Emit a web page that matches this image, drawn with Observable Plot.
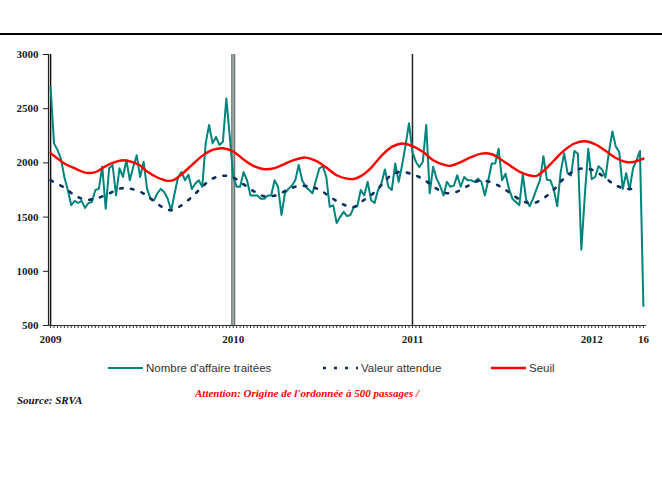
<!DOCTYPE html>
<html><head><meta charset="utf-8">
<script src="https://cdn.jsdelivr.net/npm/d3@7"></script>
<script src="https://cdn.jsdelivr.net/npm/@observablehq/plot@0.6"></script>
<style>
html,body{margin:0;padding:0;background:#fff;}
#wrap{position:relative;width:662px;height:482px;overflow:hidden;background:#fff;}
#chart{position:absolute;left:0;top:0;}
#topline{position:absolute;left:0;top:33px;width:662px;height:2px;background:#000;}
#foot{position:absolute;left:0;top:352px;}
</style></head><body>
<div id="wrap"><div id="chart"></div><div id="topline"></div><div id="foot"></div></div>
<script>
// Weekly counts (week index 0 = 2009 W1 ... 172 = 2012 W16)
const teal = [
 2700,2180,2120,2040,1870,1750,1610,1650,1630,1650,
 1585,1630,1640,1750,1760,1965,1578,1950,1980,1700,
 1950,1870,2025,1840,1965,2070,1870,2010,1760,1670,
 1655,1720,1760,1730,1670,1560,1720,1870,1915,1840,
 1890,1760,1810,1840,1780,2180,2350,2180,2240,2165,
 2195,2595,2240,1870,1780,1780,1915,1840,1700,1700,
 1700,1670,1670,1700,1700,1840,1780,1520,1720,1760,
 1790,1840,1980,1840,1780,1750,1720,1840,1950,1970,
 1870,1595,1610,1445,1500,1550,1510,1520,1595,1600,
 1750,1700,1825,1655,1630,1750,1810,1940,1780,1750,
 1994,1825,1980,2165,2365,2100,2010,1960,2010,2350,
 1720,1965,1855,1790,1700,1825,1780,1790,1885,1780,
 1870,1840,1840,1825,1855,1825,1700,1840,1994,1994,
 2130,1840,1900,1760,1670,1640,1610,1895,1660,1600,
 1670,1760,1840,2062,1845,1840,1755,1600,1915,2090,
 1905,1885,2110,2085,1200,1700,2130,1850,1870,1970,
 1940,1865,2100,2290,2150,2100,1760,1905,1755,1950,
 2025,2110,680
];
// Seuil (threshold)
const seuilWeeks = [0,2,4,7,10,13,16,18,21,24,26,28,31,33,34,36,38,41,44,47,50,53,56,59,62,65,68,71,74,77,80,83,86,88,90,93,96,99,102,105,108,111,114,116,119,122,125,128,131,134,136,139,141,143,146,149,152,155,158,161,164,167,169,172];
const seuilValues = [2090,2040,1995,1950,1910,1915,1970,2000,2025,2005,1975,1920,1865,1842,1834,1846,1895,1980,2065,2120,2135,2105,2031,1970,1942,1952,1992,2030,2049,2018,1957,1886,1855,1852,1878,1955,2065,2148,2179,2155,2102,2025,1985,1973,2008,2053,2086,2080,2025,1960,1920,1884,1880,1925,2020,2115,2179,2200,2172,2112,2045,2008,2008,2040];
// Valeur attendue (expected value)
const attWeeks = [0,4,7,10,13,16.5,20,23,26.5,29.4,32.4,35,38,41,43.5,46.5,49.5,52.7,56,59,62,65.4,68.4,71.5,75,78,81.4,84.8,87.9,90.8,93.5,96.2,98.8,101.5,105,108.3,111.5,114.6,117.7,120.8,124.2,127.6,130.7,133.6,137,140.2,143.3,146,148.4,151,154,157.5,160.8,163.5,166.6,169.8];
const attValues = [1840,1772,1701,1661,1670,1710,1763,1763,1726,1661,1593,1563,1609,1686,1763,1846,1880,1870,1802,1738,1692,1701,1747,1784,1784,1753,1680,1618,1593,1655,1716,1802,1886,1917,1895,1846,1772,1723,1732,1784,1834,1824,1778,1716,1646,1630,1680,1753,1840,1908,1948,1932,1865,1802,1763,1760];

const yTicks = [500,1000,1500,2000,2500,3000];
const tickWeeks = [0,53,105,157,172];
const tickLabels = ["2009","2010","2011","2012","16"];
const yearLineWeeks = [0,53,105];
const seriesNames = ["Nombre d'affaire traitées","Valeur attendue","Seuil"];
const sourceText = "Source: SRVA";
const noteText = "Attention: Origine de l'ordonnée à 500 passages /";

const tealData = teal.map((v,i)=>({w:i, v}));
const seuilData = seuilWeeks.map((w,i)=>({w, v:seuilValues[i]}));
const attData = attWeeks.map((w,i)=>({w, v:attValues[i]}));
const X0 = -0.6, X1 = 172.9;

const TEAL = "#00847c", NAVY = "#0b2e5c", RED = "#ff0000";

const plot = Plot.plot({
  width: 662, height: 352,
  marginTop: 54, marginBottom: 27, marginLeft: 48, marginRight: 16,
  x: {domain: [X0, X1]},
  y: {domain: [500, 3000]},
  style: {background: "transparent", fontFamily: "'Liberation Serif','Times New Roman',serif", fontSize: "11px", fontWeight: "bold", color: "#1a1a1a", overflow: "visible"},
  marks: [
    Plot.ruleX([yearLineWeeks[0]], {stroke: "#111", strokeWidth: 1.5}),
    Plot.ruleX([yearLineWeeks[1]], {stroke: "#5c6460", strokeWidth: 4}),
    Plot.ruleX([yearLineWeeks[1]], {stroke: "#a3aca8", strokeWidth: 2}),
    Plot.ruleX([yearLineWeeks[2]], {stroke: "#222", strokeWidth: 1.5}),
    Plot.line(tealData, {x: "w", y: "v", stroke: TEAL, strokeWidth: 2}),
    Plot.line(attData, {x: "w", y: "v", stroke: NAVY, strokeWidth: 2.6, strokeDasharray: "2.6,8.4", curve: "catmull-rom"}),
    Plot.line(seuilData, {x: "w", y: "v", stroke: RED, strokeWidth: 2.4, curve: "catmull-rom"}),
    Plot.ruleX([X0], {stroke: "#222", strokeWidth: 1.2}),
    Plot.ruleY([500], {stroke: "#333", strokeWidth: 1.2}),
    Plot.axisY({ticks: yTicks, tickSize: 5, tickPadding: 5, tickFormat: d => String(d), label: null, stroke: "#222"}),
    Plot.axisX({ticks: tealData.map(d => d.w), tickSize: 3, tickFormat: () => "", label: null, stroke: "#333"}),
    Plot.axisX({ticks: tickWeeks, tickSize: 0, tickPadding: 10, tickFormat: d => tickLabels[tickWeeks.indexOf(d)], label: null})
  ]
});
document.getElementById("chart").appendChild(plot);

// Legend and notes below the chart
const foot = d3.select("#foot").append("svg").attr("width", 662).attr("height", 130);
const legend = [
  {x1:108, x2:143, tx:146, color:TEAL, w:2, dash:null},
  {x1:323, x2:358, tx:361, color:NAVY, w:2.6, dash:"3,8"},
  {x1:491, x2:526, tx:529, color:RED, w:2.4, dash:null}
];
legend.forEach((d,i) => {
  foot.append("line").attr("x1", d.x1).attr("x2", d.x2).attr("y1", 16).attr("y2", 16)
    .attr("stroke", d.color).attr("stroke-width", d.w).attr("stroke-dasharray", d.dash);
  foot.append("text").attr("x", d.tx).attr("y", 20).text(seriesNames[i])
    .attr("font-family", "'Liberation Sans',Arial,sans-serif").attr("font-size", "11.5px").attr("fill", "#333");
});
foot.append("text").attr("x", 17).attr("y", 52).text(sourceText)
  .attr("font-family", "'Liberation Serif','Times New Roman',serif").attr("font-size", "11px")
  .attr("font-weight", "bold").attr("font-style", "italic").attr("fill", "#111");
foot.append("text").attr("x", 195).attr("y", 45).text(noteText)
  .attr("font-family", "'Liberation Serif','Times New Roman',serif").attr("font-size", "11px")
  .attr("font-weight", "bold").attr("font-style", "italic").attr("fill", RED);
</script></body></html>
